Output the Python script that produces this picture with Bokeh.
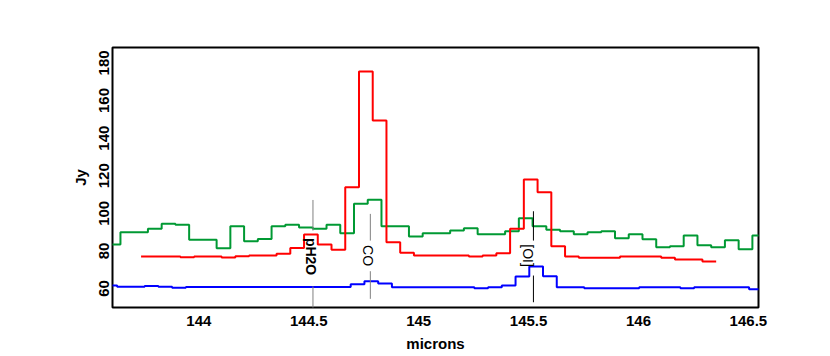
import math
from bokeh.plotting import figure
from bokeh.models import Range1d, FixedTicker
from bokeh.core.properties import value
from bokeh.embed import file_html
from bokeh.resources import INLINE

# ---------------- data ----------------
# green spectrum: bin edges (microns) and flux (Jy)
green_edges = [143.5807, 143.6432, 143.7057, 143.7682, 143.8307, 143.8932, 143.9557, 144.0182,
               144.0807, 144.1432, 144.2057, 144.2682, 144.3307, 144.3932, 144.4557, 144.5182,
               144.5807, 144.6432, 144.7057, 144.7682, 144.8307, 144.8932, 144.9557, 145.0182,
               145.0807, 145.1432, 145.2057, 145.2682, 145.3307, 145.3932, 145.4557, 145.5182,
               145.5807, 145.6432, 145.7057, 145.7682, 145.8307, 145.8932, 145.9557, 146.0182,
               146.0807, 146.1432, 146.2057, 146.2682, 146.3307, 146.3932, 146.4557, 146.5182,
               146.5807]
green_flux = [83.4, 89.9, 89.9, 91.8, 94.4, 93.9, 85.9, 85.9, 81.4, 93.1, 85.2, 86.4,
              93.1, 93.9, 92.4, 91.8, 93.9, 89.4, 105.1, 107.2, 93.1, 93.1, 87.7, 89.4,
              89.4, 90.9, 92.1, 88.9, 88.9, 90.5, 97.4, 93.1, 91.2, 90.5, 88.9, 89.9,
              90.5, 86.8, 88.9, 86.2, 82.0, 82.5, 88.2, 83.0, 82.0, 85.7, 80.9, 88.2]

# red spectrum
red_edges = [143.737, 143.9159, 143.9784, 144.0409, 144.1034, 144.1659, 144.2284, 144.2909,
             144.3534, 144.4159, 144.4784, 144.5409, 144.6034, 144.6659, 144.7284, 144.7909,
             144.8534, 144.9159, 144.9784, 145.0409, 145.1034, 145.1659, 145.2284, 145.2909,
             145.3534, 145.4159, 145.4784, 145.5409, 145.6034, 145.6659, 145.7284, 145.7909,
             145.8534, 145.9159, 145.9784, 146.0409, 146.1034, 146.1659, 146.2284, 146.2909,
             146.3534]
red_flux = [77.0, 76.6, 77.0, 77.0, 76.5, 77.2, 77.6, 77.6, 78.5, 81.6, 88.7, 83.4,
            80.6, 113.9, 175.4, 149.4, 84.6, 79.0, 77.6, 77.6, 77.6, 77.6, 77.0, 77.6,
            78.8, 91.8, 118.0, 111.2, 82.5, 77.0, 76.3, 76.3, 76.3, 77.0, 77.0, 77.0,
            76.3, 75.4, 75.4, 74.4]

# blue spectrum
blue_edges = [143.5657, 143.6282, 143.6907, 143.7532, 143.8157, 143.8782, 143.9407, 144.0032,
              144.0657, 144.1282, 144.1907, 144.2532, 144.3157, 144.3782, 144.4407, 144.5032,
              144.5657, 144.6282, 144.6907, 144.7532, 144.8157, 144.8782, 144.9407, 145.0032,
              145.0657, 145.1282, 145.1907, 145.2532, 145.3157, 145.3782, 145.4407, 145.5032,
              145.5657, 145.6282, 145.6907, 145.7532, 145.8157, 145.8782, 145.9407, 146.0032,
              146.0657, 146.1282, 146.1907, 146.2532, 146.3157, 146.3782, 146.4407, 146.5032,
              146.5657]
blue_flux = [61.6, 60.9, 60.9, 61.4, 60.9, 60.4, 60.8, 60.8, 60.8, 60.8, 60.8, 60.8,
             60.8, 60.8, 60.8, 60.8, 60.8, 60.8, 62.3, 63.9, 62.7, 60.7, 60.7, 60.7,
             60.7, 60.7, 60.7, 60.2, 60.7, 61.6, 66.4, 71.7, 66.5, 60.7, 60.7, 60.2,
             60.2, 60.2, 60.2, 60.7, 60.7, 60.7, 60.2, 60.7, 60.7, 60.7, 60.7, 59.6]

# line identifications
ann_labels = ["pH2O", "CO", "[OI]"]
ann_line_x = [144.519, 144.780, 145.522]
ann_line_top = [107.1, 99.7, 101.1]
ann_gap_top = [90.8, 85.5, 85.5]
ann_gap_bottom = [61.1, 69.2, 66.9]
ann_line_bottom = [45.0, 54.5, 52.7]
ann_line_colors = ["#808080", "#808080", "#000000"]
ann_label_x = [144.510, 144.769, 145.499]
ann_label_y = [77.0, 77.5, 77.5]
ann_label_styles = ["bold", "normal", "normal"]

x_ticks = [144, 144.5, 145, 145.5, 146, 146.5]
y_ticks = [60, 80, 100, 120, 140, 160, 180]

FONT = "Liberation Sans"

# ---------------- figure ----------------
p = figure(width=830, height=356, output_backend="svg", toolbar_location=None,
           x_range=Range1d(143.607, 146.546), y_range=Range1d(49.9, 188.2),
           min_border_left=112, min_border_right=72, min_border_top=47, min_border_bottom=49,
           background_fill_color="white", border_fill_color="white")

p.xgrid.visible = False
p.ygrid.visible = False
p.outline_line_color = "black"
p.outline_line_width = 2
p.outline_line_alpha = 1.0

for ax in (p.xaxis[0], p.yaxis[0]):
    ax.axis_line_color = None
    ax.major_tick_line_color = None
    ax.minor_tick_line_color = None
    ax.major_tick_in = 0
    ax.major_tick_out = 0
    ax.minor_tick_in = 0
    ax.minor_tick_out = 0
    ax.major_label_text_font = FONT
    ax.major_label_text_font_style = "bold"
    ax.major_label_text_font_size = "15px"
    ax.major_label_text_color = "black"
    ax.axis_label_text_font = FONT
    ax.axis_label_text_font_style = "bold"
    ax.axis_label_text_font_size = "15px"
    ax.axis_label_text_color = "black"

p.xaxis.ticker = FixedTicker(ticks=x_ticks)
p.xaxis.major_label_overrides = {t: f"{t:g}" for t in x_ticks}
p.xaxis.major_label_standoff = 8
p.xaxis.axis_label = "microns"
p.xaxis.axis_label_standoff = 6

p.yaxis.ticker = FixedTicker(ticks=y_ticks)
p.yaxis.major_label_overrides = {t: f"{t:g}" for t in y_ticks}
p.yaxis.major_label_orientation = "parallel"
p.yaxis.major_label_standoff = 3
p.yaxis.axis_label = "Jy"
p.yaxis.axis_label_standoff = 8

# spectra as step lines
for edges, flux, col in ((green_edges, green_flux, "#009933"),
                         (red_edges, red_flux, "#FF0000"),
                         (blue_edges, blue_flux, "#0000FF")):
    p.step(x=edges, y=flux + [flux[-1]], mode="after", line_color=col, line_width=2)

# identification markers
p.segment(x0=ann_line_x, y0=ann_line_top, x1=ann_line_x, y1=ann_gap_top,
          line_color=ann_line_colors, line_width=1)
p.segment(x0=ann_line_x, y0=ann_gap_bottom, x1=ann_line_x, y1=ann_line_bottom,
          line_color=ann_line_colors, line_width=1)
for lx, ly, lab, sty in zip(ann_label_x, ann_label_y, ann_labels, ann_label_styles):
    p.text(x=[lx], y=[ly], text=[lab], angle=-math.pi / 2,
           text_align="center", text_baseline="middle",
           text_font=value(FONT), text_font_size="14px", text_font_style=sty,
           text_color="black")

open("out.html", "w").write(file_html(p, INLINE))
